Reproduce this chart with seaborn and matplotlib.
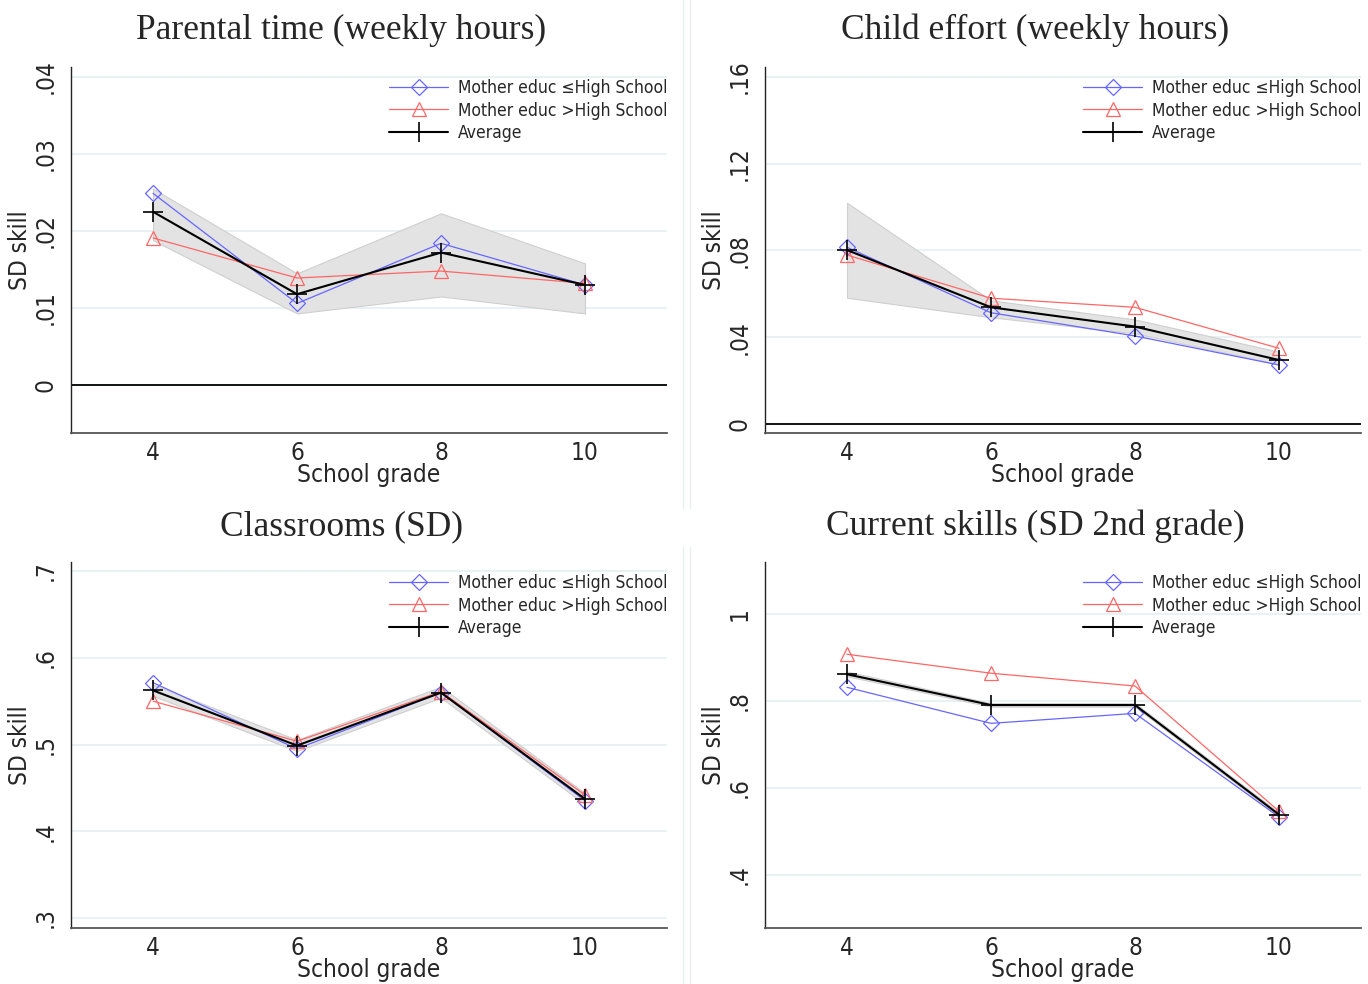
import matplotlib
matplotlib.use("Agg")
import matplotlib.pyplot as plt
from matplotlib.lines import Line2D
from matplotlib.ticker import FixedLocator, FuncFormatter
import seaborn as sns

# ---- data -------------------------------------------------------------
grades = [4, 6, 8, 10]

titles = ["Parental time (weekly hours)", "Child effort (weekly hours)",
          "Classrooms (SD)", "Current skills (SD 2nd grade)"]
series_labels = ["Mother educ \u2264High School", "Mother educ >High School", "Average"]

# Parental time
time_low = [0.0249, 0.0106, 0.0184, 0.0130]
time_high = [0.0191, 0.0139, 0.0148, 0.0132]
time_avg = [0.0225, 0.0118, 0.0172, 0.0130]
time_ci_lo = [0.0188, 0.0093, 0.0115, 0.0093]
time_ci_hi = [0.0255, 0.0145, 0.0223, 0.0158]

# Child effort
effort_low = [0.0815, 0.0513, 0.0406, 0.0272]
effort_high = [0.0779, 0.0580, 0.0538, 0.0349]
effort_avg = [0.0802, 0.0538, 0.0449, 0.0295]
effort_ci_lo = [0.0582, 0.0492, 0.0418, 0.0275]
effort_ci_hi = [0.1020, 0.0570, 0.0482, 0.0333]

# Classrooms
class_low = [0.5713, 0.4950, 0.5598, 0.4353]
class_high = [0.5500, 0.5038, 0.5610, 0.4418]
class_avg = [0.5624, 0.4988, 0.5598, 0.4372]
class_ci_lo = [0.5560, 0.4925, 0.5540, 0.4310]
class_ci_hi = [0.5690, 0.5055, 0.5665, 0.4440]

# Current skills
skill_low = [0.8316, 0.7486, 0.7716, 0.5331]
skill_high = [0.9077, 0.8640, 0.8346, 0.5463]
skill_avg = [0.8616, 0.7908, 0.7908, 0.5386]
skill_ci_lo = [0.8570, 0.7870, 0.7870, 0.5345]
skill_ci_hi = [0.8680, 0.7950, 0.7950, 0.5430]

y_ticks = [[0, 0.01, 0.02, 0.03, 0.04],
           [0, 0.04, 0.08, 0.12, 0.16],
           [0.3, 0.4, 0.5, 0.6, 0.7],
           [0.4, 0.6, 0.8, 1.0]]
y_limits = [(-0.00623, 0.0413), (-0.00415, 0.1646), (0.2885, 0.7104), (0.2776, 1.120)]
zero_line = [True, True, False, False]

panels = [
    (time_low, time_high, time_avg, time_ci_lo, time_ci_hi),
    (effort_low, effort_high, effort_avg, effort_ci_lo, effort_ci_hi),
    (class_low, class_high, class_avg, class_ci_lo, class_ci_hi),
    (skill_low, skill_high, skill_avg, skill_ci_lo, skill_ci_hi),
]

# ---- style ------------------------------------------------------------
sns.set_style("white")
plt.rcParams["font.family"] = ["DejaVu Sans"]
plt.rcParams["font.stretch"] = "condensed"

BLUE = "#6666ff"
RED = "#ff6666"
GRID = "#e6eff0"


def strip_zero(v, _pos=None):
    s = f"{v:g}"
    if s.startswith("0."):
        s = s[1:]
    return s


fig = plt.figure(figsize=(13.68, 9.84), dpi=100)

W, H = 1368.0, 984.0
col_left = [71, 765]
row_top = [67, 562]
ax_w, ax_h = 596, 366

title_x = [341, 1035]
title_base = [39, 535]

for i, (low, high, avg, lo, hi) in enumerate(panels):
    r, c = divmod(i, 2)
    ax = fig.add_axes([col_left[c] / W, 1 - (row_top[r] + ax_h) / H, ax_w / W, ax_h / H])

    ax.set_xlim(2.861, 11.139)
    ax.set_ylim(*y_limits[i])

    ax.yaxis.set_major_locator(FixedLocator(y_ticks[i]))
    ax.yaxis.set_major_formatter(FuncFormatter(strip_zero))
    ax.xaxis.set_major_locator(FixedLocator(grades))
    ax.grid(axis="y", color=GRID, lw=1.2)
    ax.grid(axis="x", visible=False)
    ax.set_axisbelow(True)

    if zero_line[i]:
        ax.axhline(0, color="black", lw=1.3, zorder=1.5)

    ax.fill_between(grades, lo, hi, color="#e3e3e3", edgecolor="#cfcfcf", lw=0.8, zorder=1)

    sns.lineplot(x=grades, y=low, ax=ax, color=BLUE, lw=0.9, marker="D", markersize=7.8,
                 markerfacecolor="none", markeredgecolor=BLUE, markeredgewidth=0.9,
                 label=series_labels[0], zorder=3)
    sns.lineplot(x=grades, y=high, ax=ax, color=RED, lw=0.9, marker="^", markersize=10,
                 markerfacecolor="none", markeredgecolor=RED, markeredgewidth=0.9,
                 label=series_labels[1], zorder=3)
    sns.lineplot(x=grades, y=avg, ax=ax, color="black", lw=1.5, marker="+", markersize=15,
                 markeredgecolor="black", markeredgewidth=1.2,
                 label=series_labels[2], zorder=4)

    for side in ("top", "right"):
        ax.spines[side].set_visible(False)
    ax.spines["left"].set_color("#222222")
    ax.spines["left"].set_linewidth(1.0)
    ax.spines["bottom"].set_color("#555555")
    ax.spines["bottom"].set_linewidth(1.3)

    ax.tick_params(axis="both", which="major", length=4.5, width=1.0, color="#333333",
                   labelsize=17.5, direction="out")
    ax.tick_params(axis="x", pad=1)
    ax.tick_params(axis="y", pad=5, labelrotation=90)
    for lab in ax.get_yticklabels():
        lab.set_va("center")
        lab.set_ha("right")

    ax.set_xlabel("School grade", fontsize=17.5, labelpad=-1)
    ax.set_ylabel("SD skill", fontsize=17.5)
    ax.yaxis.set_label_coords(-0.066, 0.5)

    ax.legend(loc="upper left", bbox_to_anchor=(0.5336, 0.968), frameon=False,
              fontsize=12.5, handlelength=3.4, handletextpad=0.55, labelspacing=0.28,
              borderpad=0, borderaxespad=0)

    fig.text(title_x[c] / W, 1 - title_base[r] / H, titles[i], ha="center", va="baseline",
             fontsize=25.5, family=["Liberation Serif", "DejaVu Serif"])

# faint borders between the combined graph regions
for x in (683, 690):
    fig.add_artist(Line2D([x / W, x / W], [1.0, 1 - 508 / H], color="#e9eeee", lw=1.0))
    fig.add_artist(Line2D([x / W, x / W], [1 - 547 / H, 0.0], color="#e9eeee", lw=1.0))

fig.savefig("out.png", dpi=100, facecolor="white")
